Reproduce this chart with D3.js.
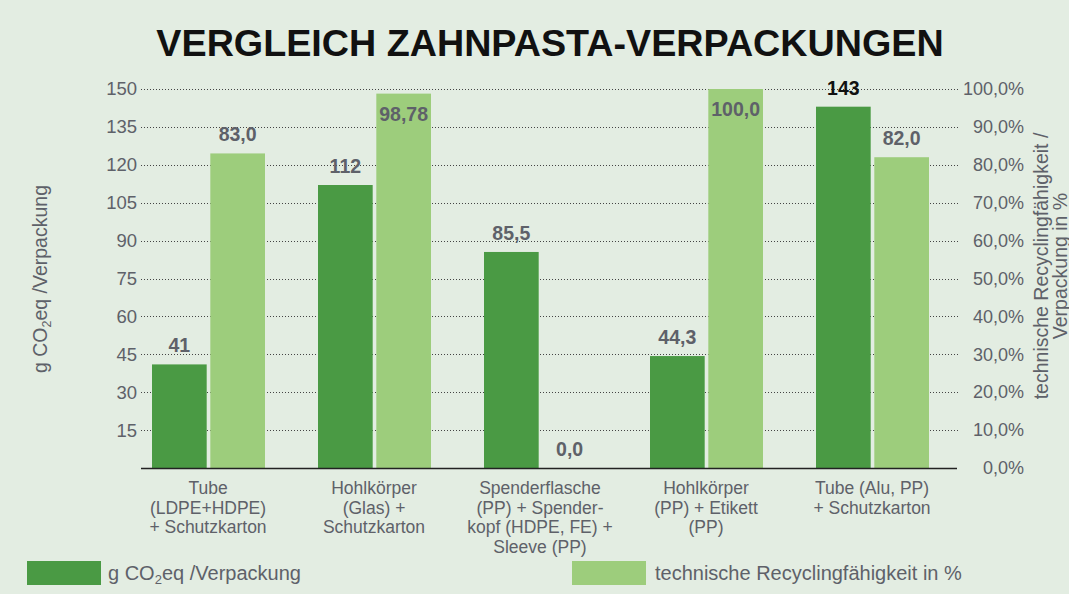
<!DOCTYPE html>
<html><head><meta charset="utf-8">
<script src="https://cdn.jsdelivr.net/npm/d3@7"></script>
<style>
html,body{margin:0;padding:0;background:#e3ede2;}
svg{display:block;font-family:"Liberation Sans",Arial,sans-serif;}
</style></head>
<body><svg id="c" width="1069" height="594"></svg>
<script>
const categories = [
  ["Tube","(LDPE+HDPE)","+ Schutzkarton"],
  ["Hohlkörper","(Glas) +","Schutzkarton"],
  ["Spenderflasche","(PP) + Spender-","kopf (HDPE, FE) +","Sleeve (PP)"],
  ["Hohlkörper","(PP) + Etikett","(PP)"],
  ["Tube (Alu, PP)","+ Schutzkarton"]
];
const co2Values = [41, 112, 85.5, 44.3, 143];
const co2Labels = ["41","112","85,5","44,3","143"];
const recyclingValues = [83.0, 98.78, 0.0, 100.0, 82.0];
const recyclingLabels = ["83,0","98,78","0,0","100,0","82,0"];
const leftTicks = [15,30,45,60,75,90,105,120,135,150];
const rightTicks = [0,10,20,30,40,50,60,70,80,90,100];
const rightTickLabels = ["0,0%","10,0%","20,0%","30,0%","40,0%","50,0%","60,0%","70,0%","80,0%","90,0%","100,0%"];

const svg = d3.select("#c");
const W=1069,H=594;
const dark="#4a9a44", light="#9dcd7c", grey="#5e6169";
const FF="Liberation Sans, Arial, sans-serif";
svg.append("rect").attr("width",W).attr("height",H).attr("fill","#e3ede2");

const y0=468, y1=89;
const yL = d3.scaleLinear().domain([0,150]).range([y0,y1]);
const yR = d3.scaleLinear().domain([0,100]).range([y0,y1]);
const x = d3.scaleBand().domain(d3.range(categories.length)).range([125.5,955.5]);
const sub = d3.scaleBand().domain([0,1]).range([26.5,139.5]).paddingInner(0.062);

// title
svg.append("text").attr("x",550).attr("y",56).attr("text-anchor","middle")
  .attr("font-size",37.7).attr("font-weight","bold").attr("fill","#111")
  .text("VERGLEICH ZAHNPASTA-VERPACKUNGEN");

// gridlines
svg.append("g").selectAll("line").data(leftTicks).join("line")
  .attr("x1",141).attr("x2",960).attr("y1",d=>Math.round(yL(d))+0.5).attr("y2",d=>Math.round(yL(d))+0.5)
  .attr("stroke","#444").attr("stroke-width",1).attr("stroke-dasharray","1,2");

// left axis
const la = svg.append("g").attr("transform","translate(141,0)")
  .call(d3.axisLeft(yL).tickValues(leftTicks).tickSize(0).tickPadding(4));
la.select(".domain").remove();
la.selectAll("text").attr("font-size",18.5).attr("fill",grey).attr("font-family",FF);

// right axis (right-aligned labels)
const ra = svg.append("g").attr("transform","translate(1024,0)")
  .call(d3.axisRight(yR).tickValues(rightTicks).tickSize(0).tickPadding(0).tickFormat((d,i)=>rightTickLabels[i]));
ra.select(".domain").remove();
ra.selectAll("text").attr("font-size",18).attr("fill",grey).attr("font-family",FF).attr("text-anchor","end");

// bars
const g = svg.append("g");
categories.forEach((c,i)=>{
  const bx = x(i);
  g.append("rect").attr("x",bx+sub(0)).attr("width",sub.bandwidth())
    .attr("y",yL(co2Values[i])).attr("height",y0-yL(co2Values[i])).attr("fill",dark);
  g.append("rect").attr("x",bx+sub(1)).attr("width",sub.bandwidth())
    .attr("y",yR(recyclingValues[i])).attr("height",y0-yR(recyclingValues[i])).attr("fill",light);
  const isMax = co2Values[i]===d3.max(co2Values);
  g.append("text").attr("x",bx+sub(0)+sub.bandwidth()/2).attr("y",yL(co2Values[i])-12)
    .attr("text-anchor","middle").attr("font-size",19.5).attr("font-weight","bold")
    .attr("fill",isMax?"#111":grey).text(co2Labels[i]);
  const inside = recyclingValues[i]>95;
  g.append("text").attr("x",bx+sub(1)+sub.bandwidth()/2)
    .attr("y",inside? yR(recyclingValues[i])+27 : yR(recyclingValues[i])-12)
    .attr("text-anchor","middle").attr("font-size",19.5).attr("font-weight","bold")
    .attr("fill",grey).text(recyclingLabels[i]);
  const t = svg.append("text").attr("text-anchor","middle").attr("font-size",17.5).attr("fill",grey);
  c.forEach((line,j)=>{
    t.append("tspan").attr("x",bx+x.bandwidth()/2-0.5).attr("y",494+j*19.7).text(line);
  });
});

// baseline
svg.append("line").attr("x1",141).attr("x2",957).attr("y1",y0+0.5).attr("y2",y0+0.5).attr("stroke","#222").attr("stroke-width",1.5);

// left axis title
const lt = svg.append("text").attr("transform","translate(47,279) rotate(-90)")
  .attr("text-anchor","middle").attr("font-size",19.5).attr("fill",grey);
lt.append("tspan").text("g CO");
lt.append("tspan").attr("font-size",12.5).attr("dy",4).text("2");
lt.append("tspan").attr("dy",-4).text("eq /Verpackung");

// right axis title
const rt = svg.append("text").attr("transform","translate(1048,266) rotate(-90)")
  .attr("text-anchor","middle").attr("font-size",19.5).attr("fill",grey);
rt.append("tspan").attr("x",0).attr("y",0).text("technische Recyclingfähigkeit /");
rt.append("tspan").attr("x",0).attr("y",18.5).text("Verpackung in %");

// legend
svg.append("rect").attr("x",27).attr("y",561).attr("width",74).attr("height",24).attr("fill",dark);
const l1 = svg.append("text").attr("x",108).attr("y",580).attr("font-size",20).attr("fill",grey);
l1.append("tspan").text("g CO");
l1.append("tspan").attr("font-size",13).attr("dy",4).text("2");
l1.append("tspan").attr("dy",-4).text("eq /Verpackung");
svg.append("rect").attr("x",572).attr("y",561).attr("width",74).attr("height",24).attr("fill",light);
svg.append("text").attr("x",655).attr("y",580).attr("font-size",20).attr("fill",grey).text("technische Recyclingfähigkeit in %");
</script></body></html>
